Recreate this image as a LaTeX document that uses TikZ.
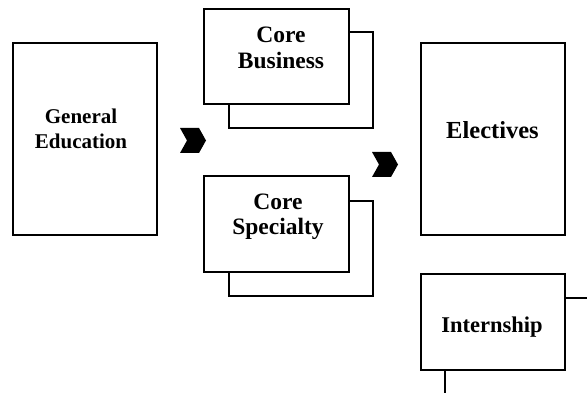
\documentclass[tikz,border=0pt]{standalone}
\usepackage{fontspec}
\setmainfont{Liberation Serif}
\begin{document}
\begin{tikzpicture}[x=1pt,y=-1pt,
  box/.style={draw, line width=2pt, fill=white, inner sep=0pt, rectangle},
  lbl/.style={font=\bfseries, align=center, inner sep=0pt},
  stub/.style={line width=2pt},
  chev/.style={fill=black}]
\useasboundingbox (0,0) rectangle (587,393);
% boxes
\node[box, minimum width=144pt, minimum height=192pt] (gen) at (85,139) {};
\node[box, minimum width=144pt, minimum height=96pt] (cbback) at (301,80) {};
\node[box, minimum width=145pt, minimum height=95pt] (cb) at (276.5,56.5) {};
\node[box, minimum width=144pt, minimum height=95pt] (csback) at (301,248.5) {};
\node[box, minimum width=145pt, minimum height=96pt] (cs) at (276.5,224) {};
\node[box, minimum width=144pt, minimum height=192pt] (ele) at (493,139) {};
\node[box, minimum width=144pt, minimum height=96pt] (int) at (493,322) {};
% labels
\node[lbl, font=\fontsize{21}{25}\selectfont\bfseries] (gent) at (81,128.5) {General\\Education};
\node[lbl, font=\fontsize{23.5}{26.5}\selectfont\bfseries] (cbt) at (281,48) {Core\\Business};
\node[lbl, font=\fontsize{23.5}{25.5}\selectfont\bfseries] (cst) at (278,217) {Core\\Specialty};
\node[lbl, font=\fontsize{24.5}{28}\selectfont\bfseries] (elet) at (492.5,130.5) {Electives};
\node[lbl, font=\fontsize{22.5}{26}\selectfont\bfseries] (intt) at (492,327) {Internship};
% chevrons
\fill[chev] (180,128) -- (199,128) -- (206,140.5) -- (199,153) -- (180,153) -- (187,140.5) -- cycle;
\fill[chev] (372,152) -- (391,152) -- (398,164.5) -- (391,177) -- (372,177) -- (379,164.5) -- cycle;
% stubs
\coordinate (e1) at (587,298);
\coordinate (e2) at (445,393);
\draw[stub] (int.east |- e1) -- (e1);
\draw[stub] (int.south -| e2) -- (e2);
\end{tikzpicture}
\end{document}
